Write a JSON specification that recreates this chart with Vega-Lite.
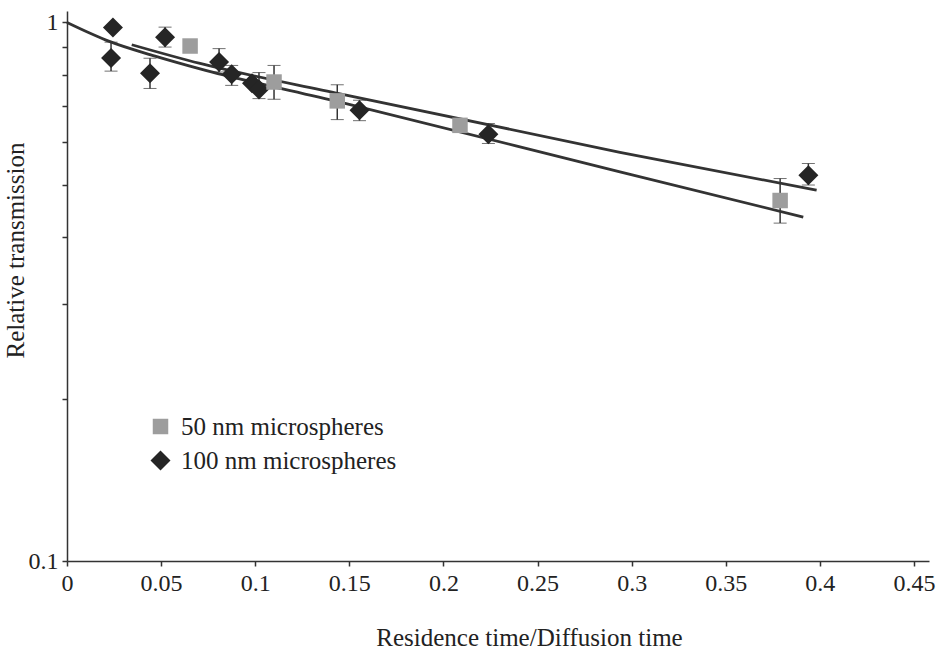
{
  "$schema": "https://vega.github.io/schema/vega-lite/v6.json",
  "width": 862,
  "height": 550,
  "autosize": {"type": "none"},
  "padding": {"left": 67, "top": 11, "right": 17, "bottom": 89},
  "background": "white",
  "config": {
    "view": {"stroke": null},
    "font": "Liberation Serif",
    "text": {"font": "Liberation Serif"},
    "axis": {
      "labelFont": "Liberation Serif",
      "titleFont": "Liberation Serif",
      "labelFontSize": 24,
      "titleFontSize": 25,
      "titleFontWeight": "normal",
      "labelColor": "#222",
      "titleColor": "#222",
      "domainColor": "#333",
      "tickColor": "#333",
      "domainWidth": 1.5,
      "tickWidth": 1.5,
      "tickSize": 5,
      "grid": false,
      "labelFlush": false,
      "labelOverlap": false
    },
    "legend": {
      "orient": "none",
      "legendX": 81,
      "legendY": 403,
      "labelFont": "Liberation Serif",
      "labelFontSize": 25,
      "labelLimit": 0,
      "labelColor": "#222",
      "rowPadding": 8,
      "labelOffset": 8,
      "symbolStrokeWidth": 0,
      "padding": 0
    }
  },
  "datasets": {
    "points": [
      {"series": "100 nm microspheres", "x": 0.0244, "y": 0.979},
      {"series": "100 nm microspheres", "x": 0.0234, "y": 0.859},
      {"series": "100 nm microspheres", "x": 0.0441, "y": 0.805},
      {"series": "100 nm microspheres", "x": 0.0521, "y": 0.939},
      {"series": "100 nm microspheres", "x": 0.0808, "y": 0.844},
      {"series": "100 nm microspheres", "x": 0.0875, "y": 0.801},
      {"series": "100 nm microspheres", "x": 0.0983, "y": 0.771},
      {"series": "100 nm microspheres", "x": 0.102, "y": 0.751},
      {"series": "100 nm microspheres", "x": 0.1554, "y": 0.687},
      {"series": "100 nm microspheres", "x": 0.2239, "y": 0.62},
      {"series": "100 nm microspheres", "x": 0.3939, "y": 0.52},
      {"series": "50 nm microspheres", "x": 0.0654, "y": 0.904},
      {"series": "50 nm microspheres", "x": 0.110, "y": 0.775},
      {"series": "50 nm microspheres", "x": 0.1436, "y": 0.715},
      {"series": "50 nm microspheres", "x": 0.2088, "y": 0.644},
      {"series": "50 nm microspheres", "x": 0.3789, "y": 0.467}
    ],
    "errs": [
      {"x": 0.0234, "lo": 0.812, "hi": 0.919},
      {"x": 0.0441, "lo": 0.754, "hi": 0.858},
      {"x": 0.0521, "lo": 0.9, "hi": 0.98},
      {"x": 0.0808, "lo": 0.809, "hi": 0.894},
      {"x": 0.0875, "lo": 0.764, "hi": 0.832},
      {"x": 0.102, "lo": 0.722, "hi": 0.807},
      {"x": 0.1554, "lo": 0.657, "hi": 0.717},
      {"x": 0.2239, "lo": 0.596, "hi": 0.649},
      {"x": 0.3939, "lo": 0.499, "hi": 0.547},
      {"x": 0.110, "lo": 0.72, "hi": 0.832},
      {"x": 0.1436, "lo": 0.66, "hi": 0.766},
      {"x": 0.3789, "lo": 0.424, "hi": 0.513}
    ],
    "fits": [
      {"fit": "A", "x": 0.0, "y": 1.0},
      {"fit": "A", "x": 0.012, "y": 0.956},
      {"fit": "A", "x": 0.02285, "y": 0.921},
      {"fit": "A", "x": 0.0468, "y": 0.866},
      {"fit": "A", "x": 0.0707, "y": 0.82},
      {"fit": "A", "x": 0.1451, "y": 0.711},
      {"fit": "A", "x": 0.2938, "y": 0.528},
      {"fit": "A", "x": 0.3912, "y": 0.435},
      {"fit": "B", "x": 0.0344, "y": 0.909},
      {"fit": "B", "x": 0.0707, "y": 0.839},
      {"fit": "B", "x": 0.1451, "y": 0.737},
      {"fit": "B", "x": 0.2938, "y": 0.574},
      {"fit": "B", "x": 0.3983, "y": 0.488}
    ]
  },
  "layer": [
    {
      "data": {"name": "errs"},
      "mark": {
        "type": "errorbar",
        "ticks": {"size": 13, "color": "#333", "strokeWidth": 1.5},
        "rule": {"color": "#333", "strokeWidth": 1.5}
      },
      "encoding": {
        "x": {
          "field": "x", "type": "quantitative",
          "scale": {"domain": [0, 0.458], "nice": false, "zero": false},
          "axis": {
            "title": "Residence time/Diffusion time",
            "values": [0, 0.05, 0.1, 0.15, 0.2, 0.25, 0.3, 0.35, 0.4, 0.45],
            "format": "~g",
            "labelFont": "Liberation Serif",
            "titleFont": "Liberation Serif",
            "labelPadding": 5,
            "titleX": 462,
            "titleY": 84,
            "titleAlign": "center",
            "titleBaseline": "alphabetic"
          }
        },
        "y": {
          "field": "lo", "type": "quantitative",
          "scale": {"type": "log", "domain": [0.1, 1.05], "nice": false},
          "axis": {
            "title": "Relative transmission",
            "values": [0.1, 0.2, 0.3, 0.4, 0.5, 0.6, 0.7, 0.8, 0.9, 1],
            "labelExpr": "datum.value == 1 ? '1' : (datum.value == 0.1 ? '0.1' : '')",
            "labelFont": "Liberation Serif",
            "titleFont": "Liberation Serif",
            "labelPadding": 4,
            "titleX": -44,
            "titleY": 239,
            "titleAlign": "center",
            "titleBaseline": "alphabetic"
          }
        },
        "y2": {"field": "hi"}
      }
    },
    {
      "data": {"name": "fits"},
      "mark": {"type": "line", "color": "#333", "strokeWidth": 2.8, "interpolate": "monotone"},
      "encoding": {
        "x": {"field": "x", "type": "quantitative", "title": "Residence time/Diffusion time"},
        "y": {"field": "y", "type": "quantitative", "title": "Relative transmission"},
        "detail": {"field": "fit", "type": "nominal"}
      }
    },
    {
      "data": {"name": "points"},
      "mark": {"type": "point", "filled": true, "opacity": 1},
      "encoding": {
        "x": {"field": "x", "type": "quantitative", "title": "Residence time/Diffusion time"},
        "y": {"field": "y", "type": "quantitative", "title": "Relative transmission"},
        "shape": {
          "field": "series", "type": "nominal",
          "scale": {"domain": ["50 nm microspheres", "100 nm microspheres"], "range": ["square", "diamond"]},
          "legend": {"title": null, "labelFont": "Liberation Serif", "labelLimit": 0}
        },
        "color": {
          "field": "series", "type": "nominal",
          "scale": {"domain": ["50 nm microspheres", "100 nm microspheres"], "range": ["#9d9d9d", "#252525"]},
          "legend": {"title": null, "labelFont": "Liberation Serif", "labelLimit": 0}
        },
        "size": {
          "field": "series", "type": "nominal",
          "scale": {"domain": ["50 nm microspheres", "100 nm microspheres"], "range": [240, 400]},
          "legend": {"title": null, "labelFont": "Liberation Serif", "labelLimit": 0}
        }
      }
    }
  ]
}
